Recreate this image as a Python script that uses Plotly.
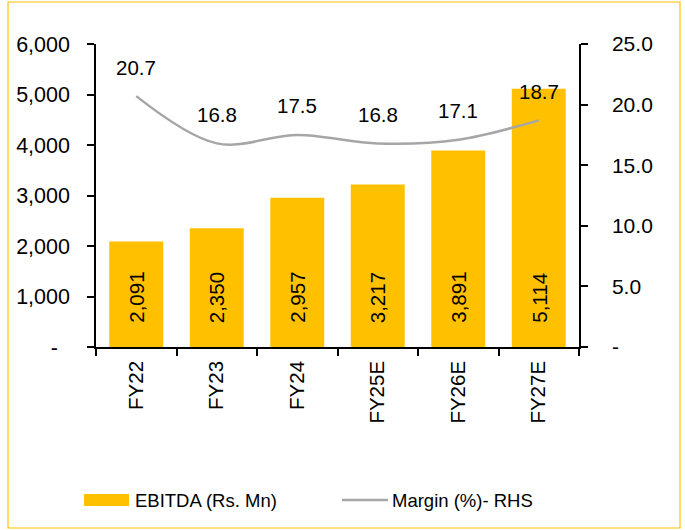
import plotly.graph_objects as go

categories = ["FY22", "FY23", "FY24", "FY25E", "FY26E", "FY27E"]
ebitda = [2091, 2350, 2957, 3217, 3891, 5114]
margin = [20.7, 16.8, 17.5, 16.8, 17.1, 18.7]

left_tickvals = [0, 1000, 2000, 3000, 4000, 5000, 6000]
left_ticktext = ["-\u00a0\u00a0", "1,000", "2,000", "3,000", "4,000", "5,000", "6,000"]
right_tickvals = [0, 5, 10, 15, 20, 25]
right_ticktext = ["-", "5.0", "10.0", "15.0", "20.0", "25.0"]

BAR = "#FFC000"
LINE = "#A6A6A6"
FONT = "Liberation Sans, Arial, sans-serif"

W, H = 685, 530
ML, MR, MT, MB = 96, 106, 44, 183
PW, PH = W - ML - MR, H - MT - MB

def px(x):
    return (x - ML) / PW

def py(y):
    return (H - MB - y) / PH

fig = go.Figure()
fig.add_trace(go.Bar(x=categories, y=ebitda, name="EBITDA (Rs. Mn)",
                     marker=dict(color=BAR, line=dict(width=0)),
                     showlegend=False))
fig.add_trace(go.Scatter(x=categories, y=margin, name="Margin (%)- RHS", yaxis="y2",
                         mode="lines", line=dict(color=LINE, width=2.5, shape="spline", smoothing=1),
                         showlegend=False))

annotations = []
for c, v in zip(categories, ebitda):
    annotations.append(dict(x=c, y=0, xref="x", yref="y", text=f"{v:,}", textangle=-90,
                            showarrow=False, yanchor="bottom", xanchor="center", yshift=22,
                            font=dict(size=20.5, color="black", family=FONT)))
for c, v in zip(categories, margin):
    annotations.append(dict(x=c, y=v, xref="x", yref="y2", text=f"{v:.1f}",
                            showarrow=False, yanchor="middle", xanchor="center", yshift=29,
                            font=dict(size=20.5, color="black", family=FONT)))

# manual legend
annotations.append(dict(x=px(133), y=py(500), xref="paper", yref="paper", text="EBITDA (Rs. Mn)",
                        showarrow=False, xanchor="left", yanchor="middle",
                        font=dict(size=18.5, color="black", family=FONT)))
annotations.append(dict(x=px(390), y=py(500), xref="paper", yref="paper", text="Margin (%)- RHS",
                        showarrow=False, xanchor="left", yanchor="middle",
                        font=dict(size=18.5, color="black", family=FONT)))

shapes = [
    dict(type="rect", xref="paper", yref="paper", x0=px(84), x1=px(129), y0=py(506), y1=py(494),
         fillcolor=BAR, line=dict(width=0)),
    dict(type="line", xref="paper", yref="paper", x0=px(342), x1=px(388), y0=py(500), y1=py(500),
         line=dict(color=LINE, width=2.5)),
    dict(type="rect", xref="paper", yref="paper", x0=px(8), x1=px(680), y0=py(528), y1=py(2),
         line=dict(color=BAR, width=1.2), fillcolor="rgba(0,0,0,0)", layer="below"),
]

fig.update_layout(
    width=W, height=H,
    margin=dict(l=ML, r=MR, t=MT, b=MB),
    paper_bgcolor="white", plot_bgcolor="white",
    font=dict(family=FONT, size=20, color="black"),
    bargap=0.33,
    showlegend=False,
    xaxis=dict(type="category", showline=True, linecolor="black", linewidth=1.5,
               ticks="outside", tickson="boundaries", ticklen=7, tickcolor="black", tickwidth=1.5,
               tickangle=-90, showgrid=False, zeroline=False, ticklabelstandoff=4,
               tickfont=dict(size=20.5, family=FONT)),
    yaxis=dict(range=[0, 6000], tickvals=left_tickvals, ticktext=left_ticktext,
               showline=True, linecolor="black", linewidth=1.5,
               ticks="outside", ticklen=7, tickcolor="black", tickwidth=1.5,
               showgrid=False, zeroline=False, ticklabelstandoff=13,
               tickfont=dict(size=21.5, family=FONT)),
    yaxis2=dict(range=[0, 25], tickvals=right_tickvals, ticktext=right_ticktext,
                overlaying="y", side="right",
                showline=True, linecolor="black", linewidth=1.5,
                ticks="outside", ticklen=7, tickcolor="black", tickwidth=1.5,
                showgrid=False, zeroline=False, ticklabelstandoff=20,
                tickfont=dict(size=21, family=FONT)),
    annotations=annotations,
    shapes=shapes,
)

fig.write_html("out.html", config={"displayModeBar": False},
               post_script="document.body.style.margin='0';document.body.style.padding='0';")
